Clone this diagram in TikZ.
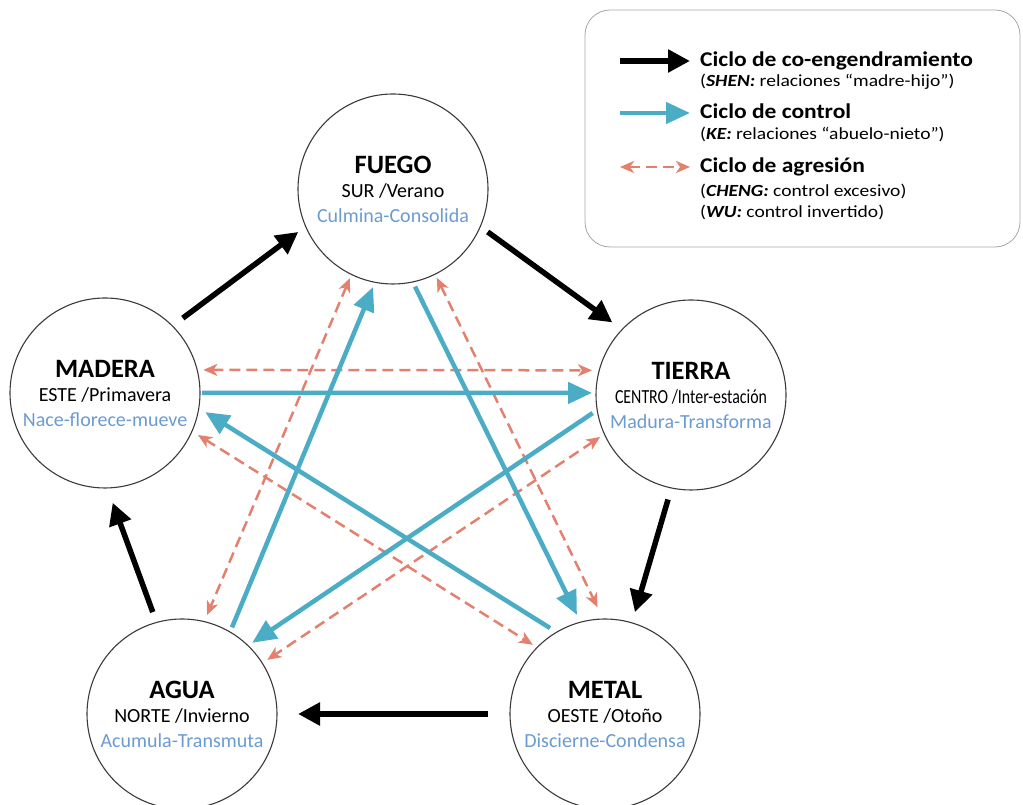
\documentclass[tikz,border=0pt]{standalone}
\usepackage{fontspec}
\setmainfont{Carlito}
\usetikzlibrary{arrows.meta,calc}
\definecolor{tealc}{HTML}{4BACC6}
\definecolor{salmon}{HTML}{E4806E}
\definecolor{subblue}{HTML}{6A9BD2}
\definecolor{ringc}{HTML}{3A3A3A}
\tikzset{
  elem/.style={circle,draw=ringc,line width=1.1pt,minimum size=190pt,inner sep=0pt,outer sep=0pt,align=center,font=\fontsize{20}{24.5}\selectfont},
  shen/.style={line width=5.5pt,black,-{Triangle[length=22pt,width=22pt]}},
  ke/.style={line width=4.5pt,tealc,-{Triangle[length=24pt,width=21pt]}},
  agr/.style={line width=2.5pt,salmon,dash pattern=on 11pt off 6pt,{Stealth[length=14pt,width=12pt,inset=4pt]}-{Stealth[length=14pt,width=12pt,inset=4pt]}},
  legtitle/.style={anchor=base west,font=\fontsize{21}{24}\selectfont\bfseries,inner sep=0pt},
  legsub/.style={anchor=base west,font=\fontsize{17}{20}\selectfont,inner sep=0pt},
}
\newcommand{\ttl}[1]{{\fontsize{26.5}{30}\selectfont\bfseries #1}}
\newcommand{\lgt}[1]{\scalebox{1.12}[1]{#1}}
\newcommand{\lgs}[1]{\scalebox{1.15}[1]{#1}}
\begin{document}
\begin{tikzpicture}[x=1pt,y=1pt]
\useasboundingbox (0,0) rectangle (1023,805);
% legend
\node[draw=gray!70,line width=0.8pt,rounded corners=25pt,minimum width=435pt,minimum height=237pt,inner sep=0pt] (legend) at (802.5,676.5) {};
\coordinate (l1a) at (620,744); \coordinate (l1b) at (690,744);
\coordinate (l2a) at (620,692); \coordinate (l2b) at (690,692);
\coordinate (l3a) at (620,638); \coordinate (l3b) at (690,638);
\draw[shen] (l1a) -- (l1b);
\draw[ke] (l2a) -- (l2b);
\draw[agr] (l3a) -- (l3b);
\node[legtitle] (lt1) at (700,738) {\lgt{Ciclo de co-engendramiento}};
\node[legsub] (ls1) at (700,718) {\lgs{(\textbf{\textit{SHEN:}} relaciones “madre-hijo”)}};
\node[legtitle] (lt2) at (700,686) {\lgt{Ciclo de control}};
\node[legsub] (ls2) at (700,665) {\lgs{(\textbf{\textit{KE:}} relaciones “abuelo-nieto”)}};
\node[legtitle] (lt3) at (700,632) {\lgt{Ciclo de agresión}};
\node[legsub] (ls3) at (700,608) {\lgs{(\textbf{\textit{CHENG:}} control excesivo)}};
\node[legsub] (ls4) at (700,587) {\lgs{(\textbf{\textit{WU:}} control invertido)}};
% elements
\node[elem] (fuego) at (393,616) {\ttl{FUEGO}\\SUR /Verano\\\textcolor{subblue}{Culmina-Consolida}};
\node[elem] (madera) at (105,412) {\ttl{MADERA}\\ESTE /Primavera\\\textcolor{subblue}{Nace-florece-mueve}};
\node[elem] (tierra) at (691,410) {\ttl{TIERRA}\\\resizebox{152pt}{\height}{CENTRO /Inter-estación}\\\textcolor{subblue}{Madura-Transforma}};
\node[elem] (agua) at (182,91) {\ttl{AGUA}\\NORTE /Invierno\\\textcolor{subblue}{Acumula-Transmuta}};
\node[elem] (metal) at (605,91) {\ttl{METAL}\\OESTE /Otoño\\\textcolor{subblue}{Discierne-Condensa}};
% shen cycle
\draw[shen] ($(madera)+(43.9:108pt)$) -- ($(fuego)+(204.4:104pt)$);
\draw[shen] ($(fuego)+(-24.4:104pt)$) -- ($(tierra)+(137.3:107pt)$);
\draw[shen] ($(tierra)+(-102.4:107pt)$) -- ($(metal)+(73.6:106pt)$);
\draw[shen] ($(metal)+(180:117pt)$) -- ($(agua)+(0:116pt)$);
\draw[shen] ($(agua)+(106:106pt)$) -- ($(madera)+(-86:110pt)$);
% agresion
\draw[agr] ($(madera)+(13.2:101pt)$) -- ($(tierra)+(166:102pt)$);
\draw[agr] ($(madera)+(-24.3:102pt)$) -- ($(metal)+(136.2:100pt)$);
\draw[agr] ($(fuego)+(244.2:99pt)$) -- ($(agua)+(75.8:102pt)$);
\draw[agr] ($(fuego)+(-63.7:99pt)$) -- ($(metal)+(94:107pt)$);
\draw[agr] ($(tierra)+(204.8:100pt)$) -- ($(agua)+(32.4:101pt)$);
% ke cycle
\draw[ke] ($(madera)+(0:97pt)$) -- ($(tierra)+(178.8:99pt)$);
\draw[ke] ($(tierra)+(190.4:100pt)$) -- ($(agua)+(45.4:100pt)$);
\draw[ke] ($(agua)+(60:100pt)$) -- ($(fuego)+(258.5:100pt)$);
\draw[ke] ($(fuego)+(282.7:100pt)$) -- ($(metal)+(105.8:103pt)$);
\draw[ke] ($(metal)+(122.6:102pt)$) -- ($(madera)+(-10.8:102pt)$);
\end{tikzpicture}
\end{document}
